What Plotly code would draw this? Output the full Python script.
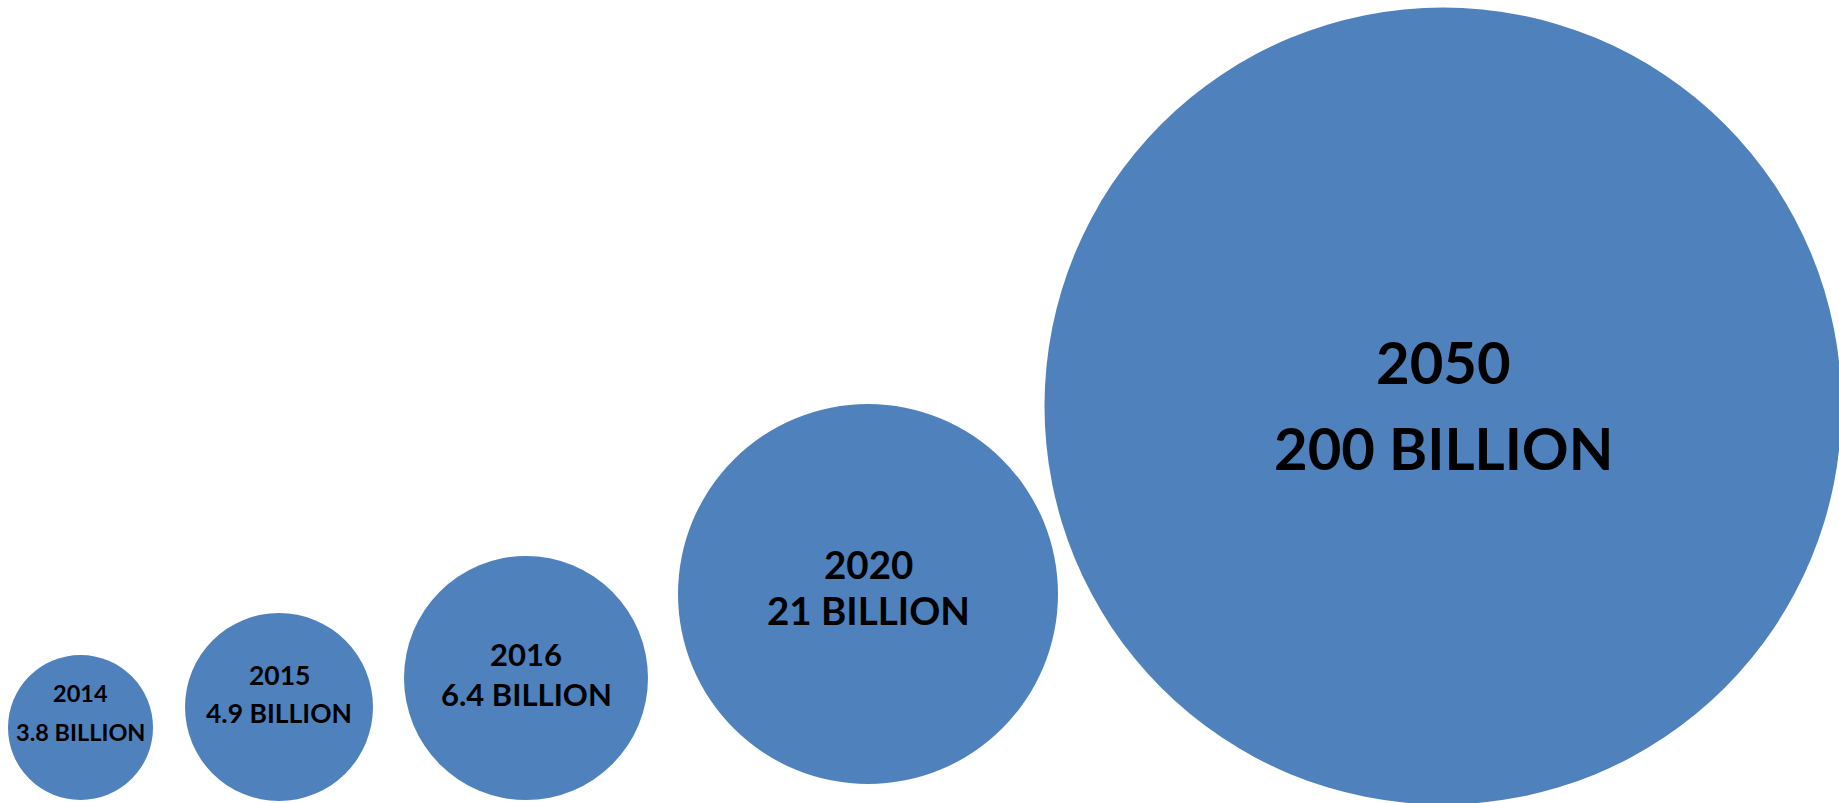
import plotly.graph_objects as go

# Data
years = ["2014", "2015", "2016", "2020", "2050"]
values_billion = [3.8, 4.9, 6.4, 21, 200]

# Bubble geometry (pixels on a 1839x803 canvas)
bubble_x = [80.5, 279, 526, 868, 1443]
bubble_y = [727.5, 707, 678, 594, 406]
bubble_diameter = [145, 188, 244, 380, 797]

# Label styling
font_size = [23.5, 26.5, 31, 38.5, 58]
year_dy = [-35, -32.5, -24, -30.5, -45]
value_dy = [4, 6.4, 15.5, 15.5, 41.5]

W, H = 1839, 803
COLOR = "#4F81BD"

fig = go.Figure()
fig.add_trace(go.Scatter(
    x=bubble_x, y=bubble_y, mode="markers",
    marker=dict(size=bubble_diameter, sizemode="diameter", color=COLOR,
                line=dict(width=0), opacity=1),
    hoverinfo="skip", cliponaxis=False, showlegend=False,
))

def fmt(v):
    return f"{v:g} BILLION"

for i, yr in enumerate(years):
    for txt, dy in ((yr, year_dy[i]), (fmt(values_billion[i]), value_dy[i])):
        fig.add_annotation(
            x=bubble_x[i], y=bubble_y[i] + dy, text=f"<b>{txt}</b>",
            showarrow=False, xanchor="center", yanchor="middle",
            font=dict(family="Lato", size=font_size[i], color="black"),
        )

fig.update_layout(
    width=W, height=H,
    margin=dict(l=0, r=0, t=0, b=0),
    paper_bgcolor="white", plot_bgcolor="white",
    xaxis=dict(range=[0, W], visible=False, fixedrange=True),
    yaxis=dict(range=[H, 0], visible=False, fixedrange=True),
    showlegend=False,
)
fig.write_html("out.html")
